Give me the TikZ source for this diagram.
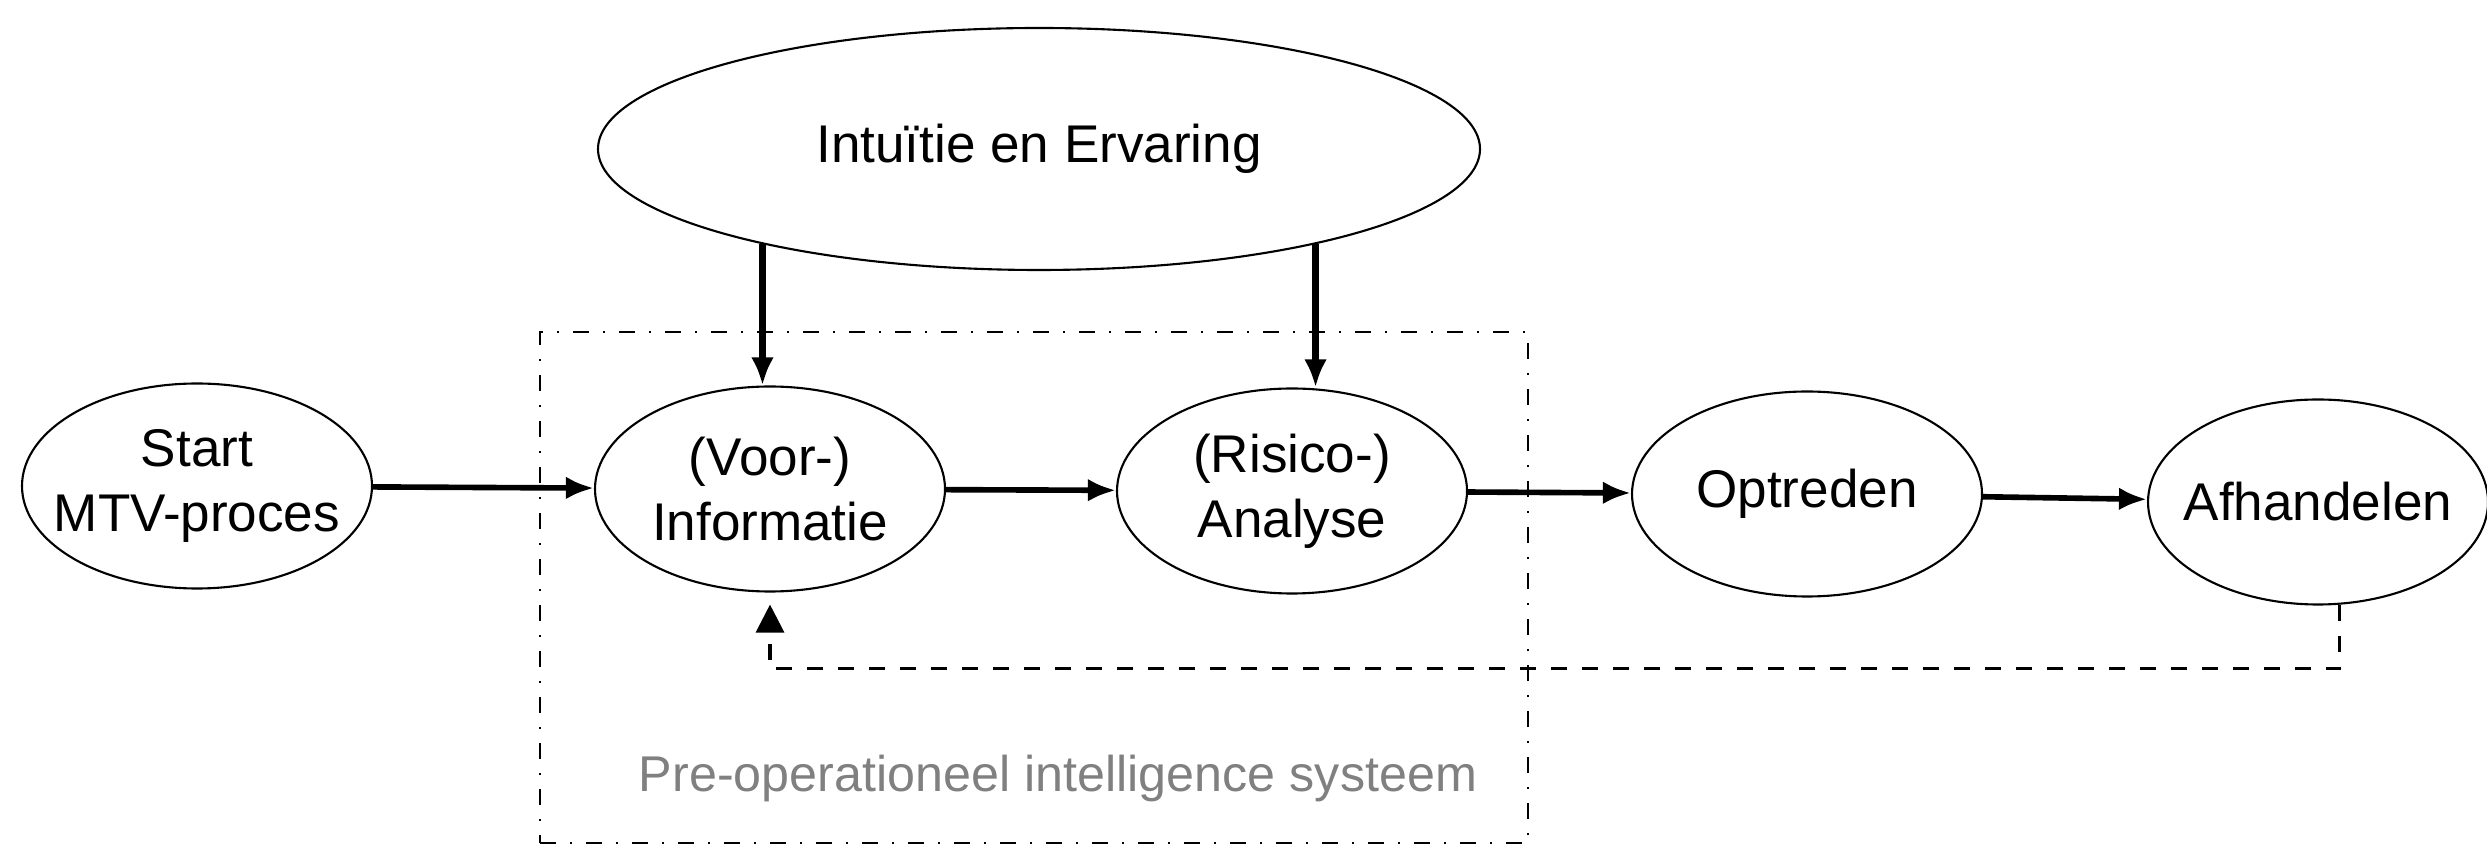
\documentclass[tikz,border=0pt]{standalone}
\usepackage{fontspec}
\setmainfont{Liberation Sans}
\usetikzlibrary{arrows.meta,shapes.geometric}
\colorlet{system label color}{black!50}
\tikzset{
    x={0.1mm},
    y={-0.1mm},
    process step/.style={
        ellipse, draw,
        line width={0.6pt},
        minimum width={35mm},
        minimum height={20.5mm},
        inner xsep={-3mm}, inner ysep=0pt,
        align=center,
        font={\fontsize{15.1pt}{18.5pt}\selectfont},
    },
    source step/.style={
        process step,
        minimum width={88.2mm},
        minimum height={24.2mm},
    },
    flow/.style={
        draw,
        line width={1.6pt},
        -{Latex[length=8pt,width=6.5pt]},
    },
    input flow/.style={
        flow,
        line width={2.2pt},
    },
    feedback/.style={
        draw,
        line width={0.9pt},
        dash pattern={on 1.6mm off 1.5mm},
        -{Triangle[length=8pt,width=8pt]},
        shorten >={1.2mm},
    },
    system box/.style={
        draw,
        line width={0.5pt},
        dash pattern={on 1.6mm off 1.4mm on 0.2mm off 1.4mm},
        inner sep=0pt, outer sep=0pt,
    },
    system label/.style={
        font={\fontsize{14.3pt}{17pt}\selectfont},
        text={system label color},
    },
}

\begin{document}
\begin{tikzpicture}
\useasboundingbox (0,0) rectangle (2487,849);
% system
\node[system box, minimum width={98.8mm}, minimum height={51.1mm}] (systeem) at (1034,587.5) {};
\node[system label] (systeem label) at (1058,779) {Pre-operationeel intelligence systeem};
% steps
\node[source step] (intuitie) at (1039,149) {Intuïtie en Ervaring};
\node[process step] (start) at (197,486) {Start\\MTV-proces};
\node[process step] (info) at (770,489) {(Voor-)\\Informatie};
\node[process step] (analyse) at (1292,491) {(Risico-)\\Analyse};
\node[process step] (optreden) at (1807,494) {Optreden};
\node[process step, minimum width={34mm}] (afhandelen) at (2318,502) {Afhandelen};
% flows
\draw[flow] (start) -- (info);
\draw[flow] (info) -- (analyse);
\draw[flow] (analyse) -- (optreden);
\draw[flow] (optreden) -- (afhandelen);
\draw[input flow] (intuitie.199) -- (intuitie.199 |- info.north);
\draw[input flow] (intuitie.341) -- (intuitie.341 |- analyse.north);
% feedback
\draw[feedback] (afhandelen.-78) -- ++(0,64) -| (info.south);
\end{tikzpicture}
\end{document}
